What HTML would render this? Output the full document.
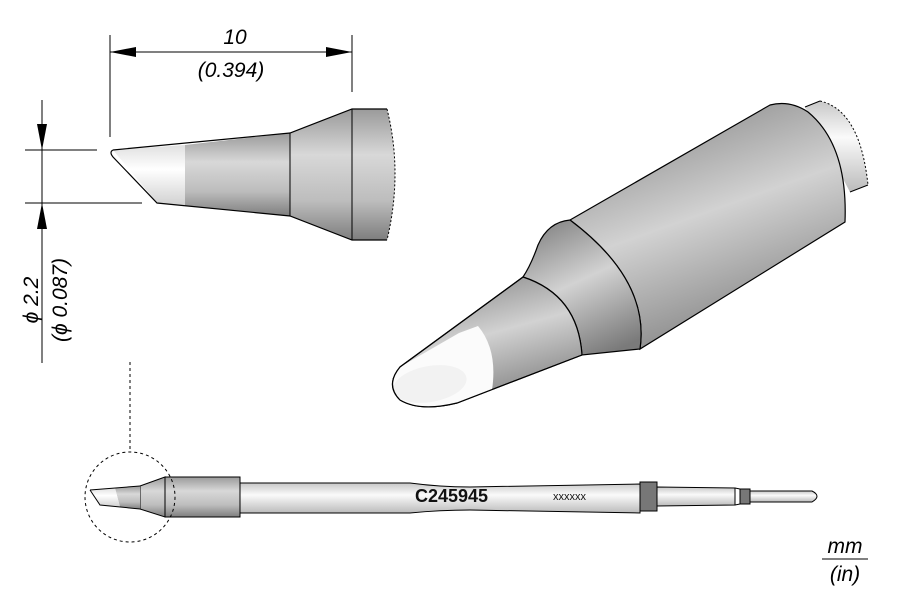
<!DOCTYPE html>
<html><head><meta charset="utf-8"><style>
html,body{margin:0;padding:0;background:#fff;}
svg{display:block;}
text{font-family:"Liberation Sans",sans-serif;}
</style></head><body>
<svg width="900" height="600" viewBox="0 0 900 600" xmlns="http://www.w3.org/2000/svg">
<defs>
<linearGradient id="gv" x1="0" y1="0" x2="0" y2="1">
<stop offset="0" stop-color="#9a9a9a"/><stop offset="0.35" stop-color="#d8d8d8"/><stop offset="0.7" stop-color="#bdbdbd"/><stop offset="1" stop-color="#7e7e7e"/>
</linearGradient>
<linearGradient id="gw" x1="0" y1="0" x2="0" y2="1">
<stop offset="0" stop-color="#e0e0e0"/><stop offset="0.4" stop-color="#ffffff"/><stop offset="1" stop-color="#d0d0d0"/>
</linearGradient>
<linearGradient id="gd" x1="0.3" y1="0" x2="0.7" y2="1">
<stop offset="0" stop-color="#8a8a8a"/><stop offset="0.45" stop-color="#d2d2d2"/><stop offset="1" stop-color="#7a7a7a"/>
</linearGradient>
<linearGradient id="gs" x1="0" y1="0" x2="0" y2="1">
<stop offset="0" stop-color="#c8c8c8"/><stop offset="0.4" stop-color="#fafafa"/><stop offset="1" stop-color="#bbbbbb"/>
</linearGradient>
</defs>

<g stroke="#000" stroke-width="1" fill="none">
<line x1="110" y1="35" x2="110" y2="137"/>
<line x1="352" y1="35" x2="352" y2="92"/>
<line x1="110" y1="52" x2="352" y2="52"/>
</g>
<polygon points="110,52 136,47 136,57" fill="#000"/>
<polygon points="352,52 326,47 326,57" fill="#000"/>
<text x="235" y="44" font-size="21" font-style="italic" text-anchor="middle">10</text>
<text x="231" y="77" font-size="21" font-style="italic" text-anchor="middle">(0.394)</text>

<g stroke="#000" stroke-width="1" fill="none">
<line x1="25" y1="150" x2="97" y2="150"/>
<line x1="25" y1="203" x2="142" y2="203"/>
<line x1="42" y1="100" x2="42" y2="363"/>
</g>
<polygon points="42,150 37,124 47,124" fill="#000"/>
<polygon points="42,203 37,229 47,229" fill="#000"/>
<text transform="translate(38,300) rotate(-90)" font-size="21" font-style="italic" text-anchor="middle">ϕ 2.2</text>
<text transform="translate(67,300) rotate(-90)" font-size="21" font-style="italic" text-anchor="middle">(ϕ 0.087)</text>

<path d="M352,109 L387,109 Q403,173 387,240 L352,240 Z" fill="url(#gv)"/>
<path d="M290,133 L352,109 L352,240 L290,216 Z" fill="url(#gv)"/>
<path d="M185,145 L290,133 L290,216 L185,206 Z" fill="url(#gv)"/>
<path d="M113,150 L185,145 L185,206 L157,203 Z" fill="url(#gw)"/>
<path d="M113,150 L290,133 L352,109 L387,109 M387,240 L352,240 L290,216 L157,203 L113,157 Q109,152 113,150" fill="none" stroke="#000" stroke-width="1.2"/>
<path d="M387,109 Q403,173 387,240" fill="none" stroke="#000" stroke-width="1" stroke-dasharray="2,2"/>
<line x1="290" y1="133" x2="290" y2="216" stroke="#000"/>
<line x1="352" y1="109" x2="352" y2="240" stroke="#000"/>

<path d="M805,107 L820,101 Q860,110 868,185 L850,192 Z" fill="url(#gs)"/>
<path d="M820,101 Q860,110 868,185" fill="none" stroke="#000" stroke-dasharray="2,2"/>
<path d="M805,107 L820,101 M850,192 L868,185" stroke="#000" fill="none"/>
<path d="M570,220 L770,105 Q790,100 808,112 Q848,145 845,222 L640,349 Q650,280 570,220 Z" fill="url(#gd)" stroke="#000" stroke-width="1.2"/>
<path d="M570,220 Q548,222 538,245 Q531,265 523,277 Q578,295 582,355 L640,349 Q650,280 570,220 Z" fill="url(#gd)" stroke="#000" stroke-width="1.2"/>
<path d="M523,277 L400,367 Q385,385 400,400 Q420,412 457,403 L582,355 Q578,295 523,277 Z" fill="url(#gd)" stroke="#000" stroke-width="1.2"/>
<path d="M459,333 L400,367 Q385,385 400,400 Q420,412 457,403 L492,390 Q498,350 478,326 Z" fill="#fbfbfb"/>
<ellipse cx="430" cy="384" rx="37" ry="18" transform="rotate(-10 430 384)" fill="#f2f2f2"/>
<path d="M523,277 L400,367 Q385,385 400,400 Q420,412 457,403 L582,355" fill="none" stroke="#000" stroke-width="1.2"/>

<line x1="130" y1="362" x2="130" y2="452" stroke="#000" stroke-dasharray="3,3"/>
<path d="M240,483 L410,483 Q440,487 470,487 L640,484 L640,513 L470,510 Q440,510 410,513 L240,513 Z" fill="url(#gs)" stroke="#000"/>
<rect x="640" y="482" width="17" height="29" fill="#777" stroke="#000"/>
<path d="M657,487 L735,488 L735,505 L657,506 Z" fill="url(#gs)" stroke="#000"/>
<rect x="740" y="489" width="10" height="15" fill="#777" stroke="#000"/>
<path d="M735,488 L740,489 M735,505 L740,504" stroke="#000"/>
<path d="M750,491 L812,491 Q822,496 812,502 L750,502 Z" fill="url(#gs)" stroke="#000"/>
<rect x="165" y="477" width="75" height="40" fill="url(#gv)" stroke="#000"/>
<path d="M140,486 L165,477 L165,517 L140,509 Z" fill="url(#gv)" stroke="#000"/>
<path d="M115,488 L140,486 L140,509 L120,507 Z" fill="url(#gv)"/>
<path d="M90,490 L115,488 L120,507 L100,505 Z" fill="url(#gw)"/>
<path d="M90,490 L140,486 M140,509 L100,505 L90,490" fill="none" stroke="#000"/>
<circle cx="130" cy="497" r="45" fill="none" stroke="#000" stroke-dasharray="3,3"/>
<text x="415" y="502" font-size="18" font-weight="bold" fill="#111">C245945</text>
<text x="553" y="500" font-size="11" fill="#111">xxxxxx</text>

<text x="845" y="553" font-size="21" font-style="italic" text-anchor="middle">mm</text>
<line x1="822" y1="559" x2="868" y2="559" stroke="#000"/>
<text x="845" y="581" font-size="21" font-style="italic" text-anchor="middle">(in)</text>
</svg>
</body></html>
